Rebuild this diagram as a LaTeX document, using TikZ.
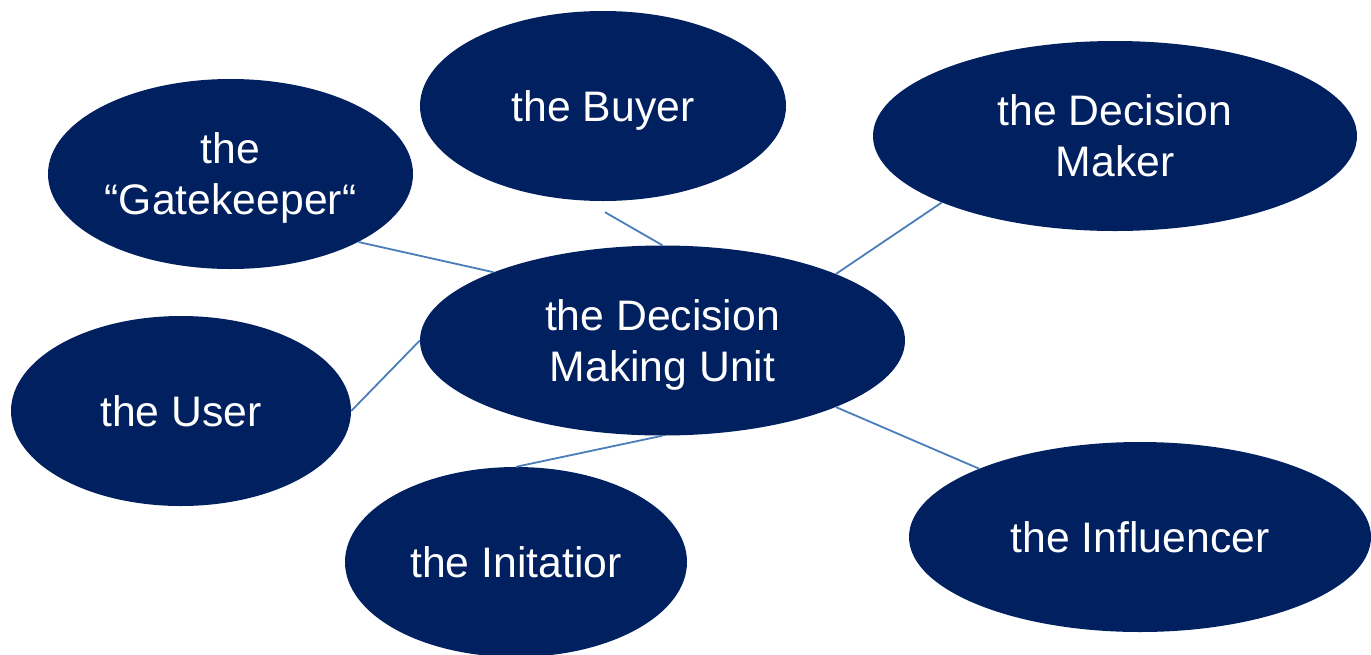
\documentclass[tikz,border=0pt]{standalone}
\usepackage{fontspec}
\setmainfont{Liberation Sans}
\usetikzlibrary{shapes.geometric,calc}
\definecolor{navy}{RGB}{0,32,96}
\definecolor{linkblue}{RGB}{74,126,187}
\begin{document}
\begin{tikzpicture}[x=1pt,y=-1pt,
  role/.style={ellipse,fill=navy,draw=none,inner sep=0pt,text=white,align=center,
    text depth=0pt,font=\fontsize{42.7}{51}\selectfont},
  link/.style={draw=linkblue,line width=1.8pt}]
\useasboundingbox (0,0) rectangle (1371,654);

% role ellipses
\node[role,minimum width=365,minimum height=190] (gate)  at (230.5,174) {the\\“Gatekeeper“};
\node[role,minimum width=366,minimum height=190] (buyer) at (603,106) {the Buyer};
\node[role,minimum width=484,minimum height=190] (dm)    at (1115,136) {the Decision\\Maker};
\node[role,minimum width=485,minimum height=190] (dmu)   at (662.5,340.5) {the Decision\\Making Unit};
\node[role,minimum width=340,minimum height=190] (user)  at (181,411) {the User};
\node[role,minimum width=342,minimum height=190] (init)  at (516,562) {the Initatior};
\node[role,minimum width=462,minimum height=190] (infl)  at (1140,537) {the Influencer};

\coordinate (buyerTail) at ($(buyer.south)+(2,11)$);

% connectors to the decision making unit
\draw[link] (gate.332.6) -- (dmu.158.4);
\draw[link] (buyerTail) -- (dmu.north);
\draw[link] (dm.201.3) -- (dmu.21.4);
\draw[link] (user.east) -- (dmu.west);
\draw[link] (init.north) -- (dmu.south);
\draw[link] (infl.157.5) -- (dmu.339);
\end{tikzpicture}
\end{document}
